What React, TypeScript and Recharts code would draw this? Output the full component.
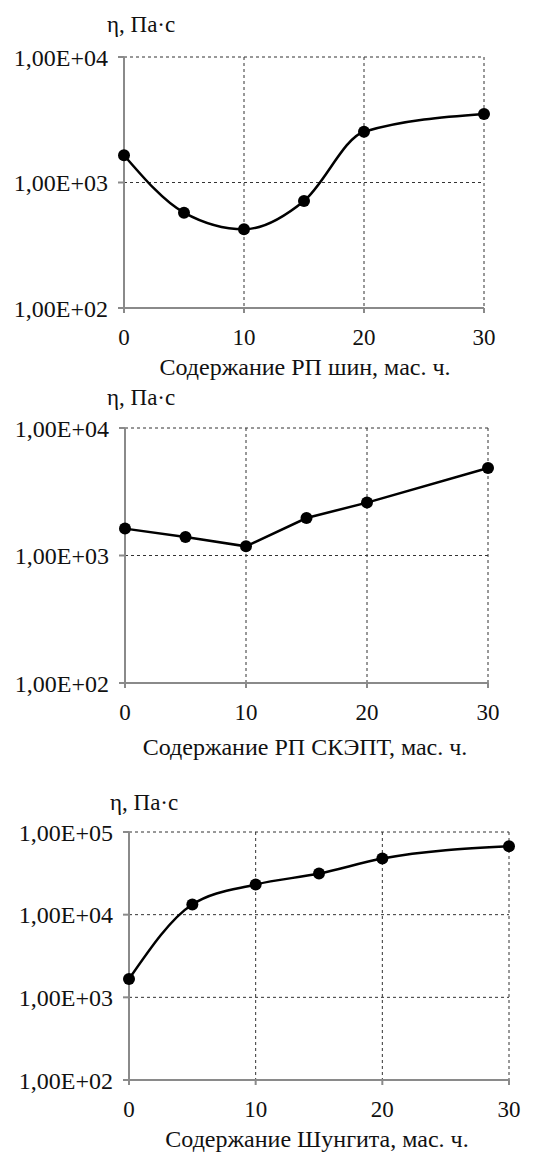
import React from 'react';
import { LineChart, Line, XAxis, YAxis, CartesianGrid } from 'recharts';

// содержание наполнителя, мас. ч.
const contents = [0, 5, 10, 15, 20, 30];
const xTicks = [0, 10, 20, 30];

// вязкость, Па·с
const tireViscosity = [1650, 575, 424, 713, 2540, 3515];
const sketpViscosity = [1625, 1397, 1180, 1968, 2600, 4856];
const shungiteViscosity = [1663, 13280, 23170, 31430, 47730, 67180];

const yTicksLow = [100, 1000, 10000];
const yTicksHigh = [100, 1000, 10000, 100000];

const serifFace = 'Times New Roman';
const axisGray = '#8a8a8a';

const formatSci = (v: number) => {
  const p = Math.round(Math.log10(v));
  return '1,00E+' + String(p).padStart(2, '0');
};

interface PanelProps {
  top: number;
  height: number;
  values: number[];
  yTicks: number[];
  curve: 'monotone' | 'linear';
  margin: { top: number; right: number };
  yAxisWidth: number;
  xAxisHeight: number;
  xLabel: string;
  xLabelPos: { x: number; y: number };
  yLabelPos: { x: number; y: number };
}

function Panel(p: PanelProps) {
  const data = contents.map((x, i) => ({ x, v: p.values[i] }));
  const textStyle: React.CSSProperties = {
    position: 'absolute',
    fontFamily: serifFace,
    fontSize: 23,
    color: '#111',
    whiteSpace: 'nowrap',
  };
  return (
    <div style={{ position: 'absolute', left: 0, top: p.top, width: 549, height: p.height }}>
      <LineChart
        width={549}
        height={p.height}
        data={data}
        margin={{ top: p.margin.top, right: p.margin.right, left: 0, bottom: 0 }}
      >
        <CartesianGrid stroke="#333" strokeDasharray="3 3" strokeWidth={1} />
        <XAxis
          type="number"
          dataKey="x"
          domain={[0, 30]}
          ticks={xTicks}
          height={p.xAxisHeight}
          stroke={axisGray}
          strokeWidth={2}
          tickSize={5}
          tickMargin={16}
          tick={{ fill: '#111', fontFamily: serifFace, fontSize: 23 }}
        />
        <YAxis
          scale="log"
          domain={[p.yTicks[0], p.yTicks[p.yTicks.length - 1]]}
          ticks={p.yTicks}
          allowDataOverflow
          width={p.yAxisWidth}
          stroke={axisGray}
          strokeWidth={2}
          tickSize={6}
          tickMargin={10}
          tickFormatter={formatSci}
          tick={{ fill: '#111', fontFamily: serifFace, fontSize: 24 }}
        />
        <Line
          type={p.curve}
          dataKey="v"
          stroke="#000"
          strokeWidth={2.5}
          dot={{ r: 6, fill: '#000', stroke: '#000', strokeWidth: 0 }}
          isAnimationActive={false}
        />
      </LineChart>
      <div style={{ ...textStyle, left: p.yLabelPos.x, top: p.yLabelPos.y - 13 }}>
        η, Па·с
      </div>
      <div
        style={{
          ...textStyle,
          fontSize: 24,
          left: p.xLabelPos.x - 170,
          width: 340,
          textAlign: 'center',
          top: p.xLabelPos.y - 14,
        }}
      >
        {p.xLabel}
      </div>
    </div>
  );
}

export default function App() {
  return (
    <div style={{ position: 'absolute', left: 0, top: 0, width: 549, height: 1153, background: '#fff' }}>
      <Panel
        top={0}
        height={380}
        values={tireViscosity}
        yTicks={yTicksLow}
        curve="monotone"
        margin={{ top: 57, right: 65 }}
        yAxisWidth={124}
        xAxisHeight={72}
        xLabel="Содержание РП шин, мас. ч."
        xLabelPos={{ x: 305, y: 368 }}
        yLabelPos={{ x: 107, y: 25 }}
      />
      <Panel
        top={380}
        height={380}
        values={sketpViscosity}
        yTicks={yTicksLow}
        curve="linear"
        margin={{ top: 48, right: 61 }}
        yAxisWidth={125}
        xAxisHeight={77}
        xLabel="Содержание РП СКЭПТ, мас. ч."
        xLabelPos={{ x: 305, y: 368 }}
        yLabelPos={{ x: 107, y: 18 }}
      />
      <Panel
        top={760}
        height={393}
        values={shungiteViscosity}
        yTicks={yTicksHigh}
        curve="monotone"
        margin={{ top: 72, right: 40 }}
        yAxisWidth={129}
        xAxisHeight={73}
        xLabel="Содержание Шунгита, мас. ч."
        xLabelPos={{ x: 317, y: 380 }}
        yLabelPos={{ x: 110, y: 43 }}
      />
    </div>
  );
}
